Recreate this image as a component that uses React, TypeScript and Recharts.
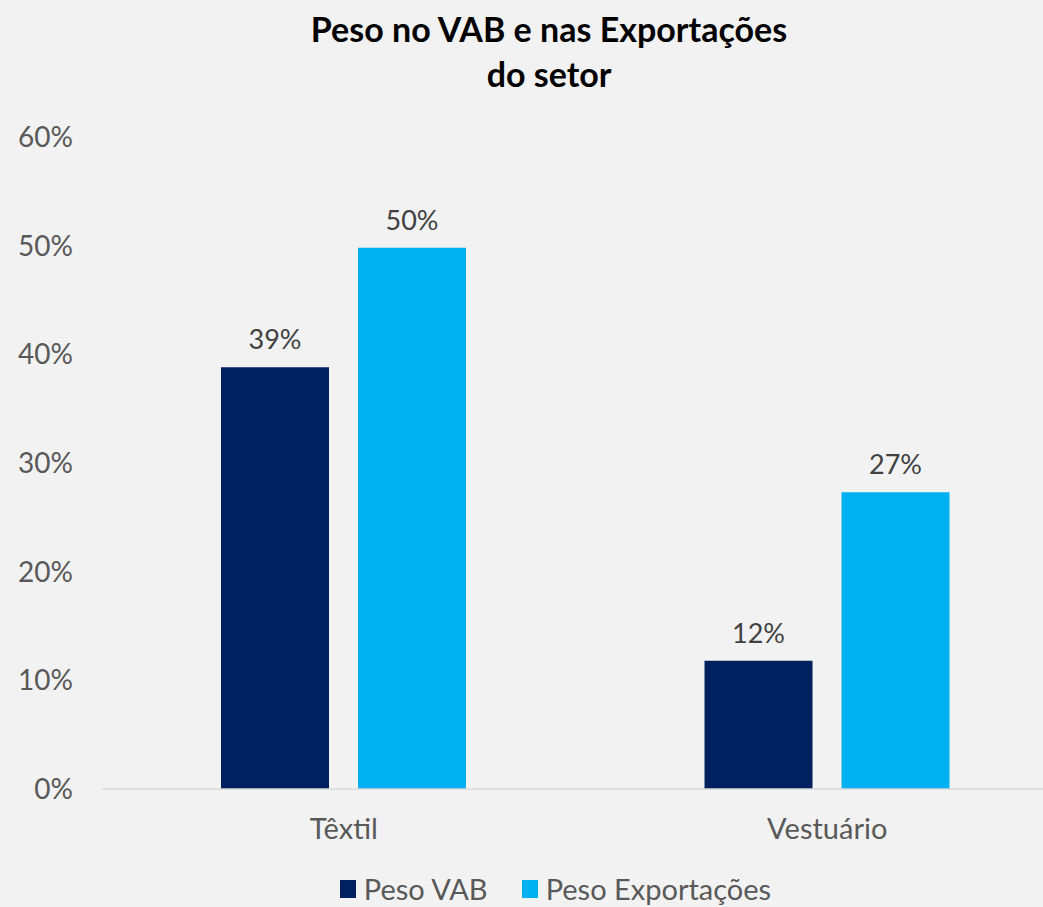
import { BarChart, Bar, XAxis, YAxis, Legend, LabelList } from "recharts"

const categories = ["Têxtil", "Vestuário"]
const pesoVAB = [38.8, 11.8]
const pesoExportacoes = [49.8, 27.3]
const yTicks = [0, 10, 20, 30, 40, 50, 60]

const data = categories.map((name, i) => ({
  name,
  vab: pesoVAB[i],
  exp: pesoExportacoes[i],
}))

const FONT = "Lato, 'Open Sans', sans-serif"

// legenda simples com quadrados
const renderLegend = () => (
  <div
    style={{
      display: "flex",
      justifyContent: "center",
      alignItems: "center",
      gap: 34,
      fontFamily: FONT,
      fontSize: 29,
      color: "#595959",
      paddingLeft: 42,
      paddingTop: 4,
    }}
  >
    <span style={{ display: "flex", alignItems: "center", gap: 8 }}>
      <span style={{ width: 16, height: 18, background: "#002060", display: "inline-block" }} />
      Peso VAB
    </span>
    <span style={{ display: "flex", alignItems: "center", gap: 8 }}>
      <span style={{ width: 16, height: 18, background: "#00B0F0", display: "inline-block" }} />
      Peso Exportações
    </span>
  </div>
)

export default function App() {
  return (
    <div
      style={{
        position: "fixed",
        left: 0,
        top: 0,
        width: 1043,
        height: 907,
        overflow: "hidden",
        background: "#f2f2f2",
        fontFamily: FONT,
      }}
    >
      <div
        style={{
          position: "absolute",
          left: 0,
          top: 6,
          width: 1098,
          textAlign: "center",
          fontWeight: 700,
          fontSize: 34,
          lineHeight: "45px",
          color: "#000",
        }}
      >
        Peso no VAB e nas Exportações
        <br />
        do setor
      </div>
      <div style={{ position: "absolute", left: 0, top: 0 }}>
        <BarChart
          width={1098}
          height={907}
          data={data}
          margin={{ top: 137, right: 29, left: 0, bottom: 0 }}
          barSize={108}
          barGap={29}
        >
          <XAxis
            dataKey="name"
            height={78}
            axisLine={{ stroke: "#d9d9d9", strokeWidth: 1.5 }}
            tickLine={false}
            tickSize={0}
            tickMargin={29}
            tick={{ fontSize: 29, fill: "#595959", fontFamily: FONT }}
          />
          <YAxis
            width={102}
            domain={[0, 60]}
            ticks={yTicks}
            interval={0}
            axisLine={false}
            tickLine={false}
            tickSize={0}
            tickMargin={29}
            tickFormatter={(v) => `${v}%`}
            tick={{ fontSize: 28, fill: "#595959", fontFamily: FONT }}
          />
          <Legend verticalAlign="bottom" height={40} content={renderLegend} />
          <Bar dataKey="vab" name="Peso VAB" fill="#002060" isAnimationActive={false}>
            <LabelList
              dataKey="vab"
              position="top"
              offset={18}
              formatter={(v: any) => `${Math.round(v)}%`}
              style={{ fontSize: 27, fill: "#404040", fontFamily: FONT }}
            />
          </Bar>
          <Bar dataKey="exp" name="Peso Exportações" fill="#00B0F0" isAnimationActive={false}>
            <LabelList
              dataKey="exp"
              position="top"
              offset={18}
              formatter={(v: any) => `${Math.round(v)}%`}
              style={{ fontSize: 27, fill: "#404040", fontFamily: FONT }}
            />
          </Bar>
        </BarChart>
      </div>
    </div>
  )
}
